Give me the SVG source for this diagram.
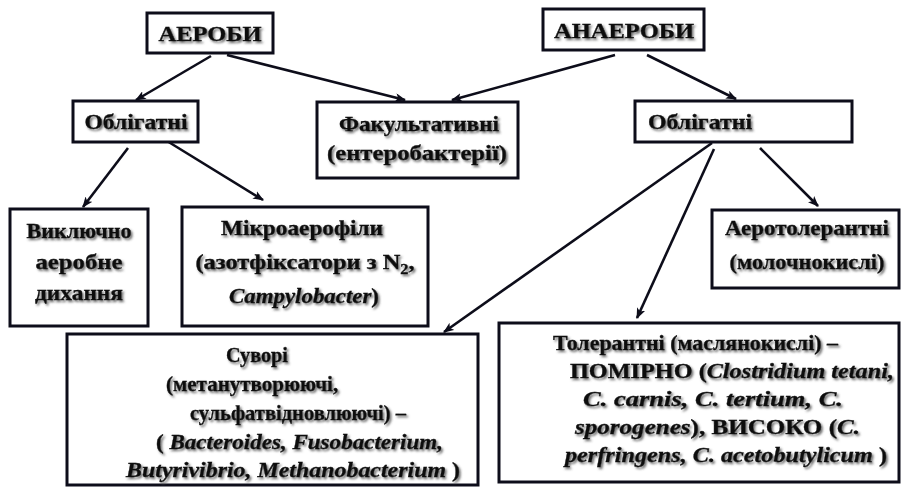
<svg xmlns="http://www.w3.org/2000/svg" width="901" height="498" viewBox="0 0 901 498">
  <defs>
    <filter id="shadow" x="-10%" y="-30%" width="120%" height="160%">
      <feDropShadow dx="1.7" dy="1.9" stdDeviation="1" flood-color="#4a4a4a" flood-opacity="0.8"/>
    </filter>
    <marker id="arrow" viewBox="0 0 10 8" refX="9" refY="4" markerWidth="4.2" markerHeight="3.4" markerUnits="strokeWidth" orient="auto">
      <path d="M0,0 L10,4 L0,8 L2.5,4 Z" fill="#0d0d1a"/>
    </marker>
    <style>
      .box { fill: #fff; stroke: #0d0d1a; stroke-width: 3; }
      .t { font-family: "Liberation Serif", "DejaVu Serif", serif; font-weight: bold; font-size: 21px; fill: #111; stroke: #111; stroke-width: 0.35; filter: url(#shadow); }
      .c { text-anchor: middle; }
      .i { font-style: italic; }
      .link { fill: none; stroke: #0d0d1a; stroke-width: 2.6; marker-end: url(#arrow); }
    </style>
  </defs>

  <rect width="901" height="498" fill="#fff"/>

  <g id="connectors">
    <line class="link" x1="211" y1="56" x2="136" y2="100"/>
    <line class="link" x1="227" y1="55" x2="405" y2="100"/>
    <line class="link" x1="615" y1="55" x2="452" y2="100"/>
    <line class="link" x1="647" y1="55" x2="736" y2="99"/>
    <line class="link" x1="128" y1="148" x2="83" y2="207"/>
    <line class="link" x1="167" y1="141" x2="263" y2="200"/>
    <line class="link" x1="712" y1="143" x2="444" y2="332"/>
    <line class="link" x1="714" y1="149" x2="637" y2="318"/>
    <line class="link" x1="760" y1="148" x2="818" y2="206"/>
  </g>

  <g id="aerobes">
    <rect class="box" x="147" y="13" width="126" height="40"/>
    <text class="t c" x="210" y="41" textLength="103" lengthAdjust="spacingAndGlyphs">АЕРОБИ</text>
  </g>

  <g id="anaerobes">
    <rect class="box" x="543" y="9" width="161" height="41"/>
    <text class="t c" x="624" y="38" textLength="140" lengthAdjust="spacingAndGlyphs">АНАЕРОБИ</text>
  </g>

  <g id="aerobes-obligate">
    <rect class="box" x="73" y="101" width="125" height="41"/>
    <text class="t c" x="136" y="129" textLength="103" lengthAdjust="spacingAndGlyphs">Облігатні</text>
  </g>

  <g id="facultative">
    <rect class="box" x="317" y="102" width="201" height="76"/>
    <text class="t c" x="419" y="131" textLength="160" lengthAdjust="spacingAndGlyphs">Факультативні</text>
    <text class="t c" x="417" y="160" textLength="180" lengthAdjust="spacingAndGlyphs">(ентеробактерії)</text>
  </g>

  <g id="anaerobes-obligate">
    <rect class="box" x="635" y="101" width="217" height="41"/>
    <text class="t" x="648" y="129" textLength="104" lengthAdjust="spacingAndGlyphs">Облігатні</text>
  </g>

  <g id="strict-aerobic">
    <rect class="box" x="10" y="209" width="138" height="117"/>
    <text class="t c" x="79" y="238" textLength="105" lengthAdjust="spacingAndGlyphs">Виключно</text>
    <text class="t c" x="79" y="269" textLength="87" lengthAdjust="spacingAndGlyphs">аеробне</text>
    <text class="t c" x="79" y="300" textLength="88" lengthAdjust="spacingAndGlyphs">дихання</text>
  </g>

  <g id="microaerophiles">
    <rect class="box" x="182" y="207" width="246" height="119"/>
    <text class="t c" x="302" y="235" textLength="162" lengthAdjust="spacingAndGlyphs">Мікроаерофіли</text>
    <text class="t c" x="305" y="269" textLength="219" lengthAdjust="spacingAndGlyphs">(азотфіксатори з N<tspan font-size="14" dy="5">2</tspan><tspan dy="-5">,</tspan></text>
    <text class="t c" x="304" y="303" textLength="150" lengthAdjust="spacingAndGlyphs"><tspan class="i">Campylobacter</tspan>)</text>
  </g>

  <g id="aerotolerant">
    <rect class="box" x="712" y="210" width="187" height="78"/>
    <text class="t c" x="807" y="235" textLength="164" lengthAdjust="spacingAndGlyphs">Аеротолерантні</text>
    <text class="t c" x="807" y="269" textLength="155" lengthAdjust="spacingAndGlyphs">(молочнокислі)</text>
  </g>

  <g id="strict-anaerobes">
    <rect class="box" x="67" y="334" width="411" height="151"/>
    <text class="t c" x="257" y="362" textLength="62" lengthAdjust="spacingAndGlyphs">Суворі</text>
    <text class="t" x="166" y="391">(метанутворюючі,</text>
    <text class="t" x="190" y="420" textLength="216" lengthAdjust="spacingAndGlyphs">сульфатвідновлюючі) –</text>
    <text class="t" x="156" y="449" textLength="287" lengthAdjust="spacingAndGlyphs">( <tspan class="i">Bacteroides, Fusobacterium,</tspan></text>
    <text class="t" x="126" y="477" textLength="334" lengthAdjust="spacingAndGlyphs"><tspan class="i">Butyrivibrio, Methanobacterium</tspan> )</text>
  </g>

  <g id="tolerant">
    <rect class="box" x="499" y="323" width="400" height="159"/>
    <text class="t" x="553" y="350" textLength="285" lengthAdjust="spacingAndGlyphs">Толерантні (маслянокислі) –</text>
    <text class="t" x="570" y="378" textLength="324" lengthAdjust="spacingAndGlyphs">ПОМІРНО (<tspan class="i">Clostridium tetani,</tspan></text>
    <text class="t" x="583" y="406" textLength="260" lengthAdjust="spacingAndGlyphs"><tspan class="i">C. carnis, C. tertium, C.</tspan></text>
    <text class="t" x="575" y="434" textLength="285" lengthAdjust="spacingAndGlyphs"><tspan class="i">sporogenes</tspan>), ВИСОКО (<tspan class="i">C.</tspan></text>
    <text class="t" x="565" y="462" textLength="322" lengthAdjust="spacingAndGlyphs"><tspan class="i">perfringens, C. acetobutylicum</tspan> )</text>
  </g>
</svg>
